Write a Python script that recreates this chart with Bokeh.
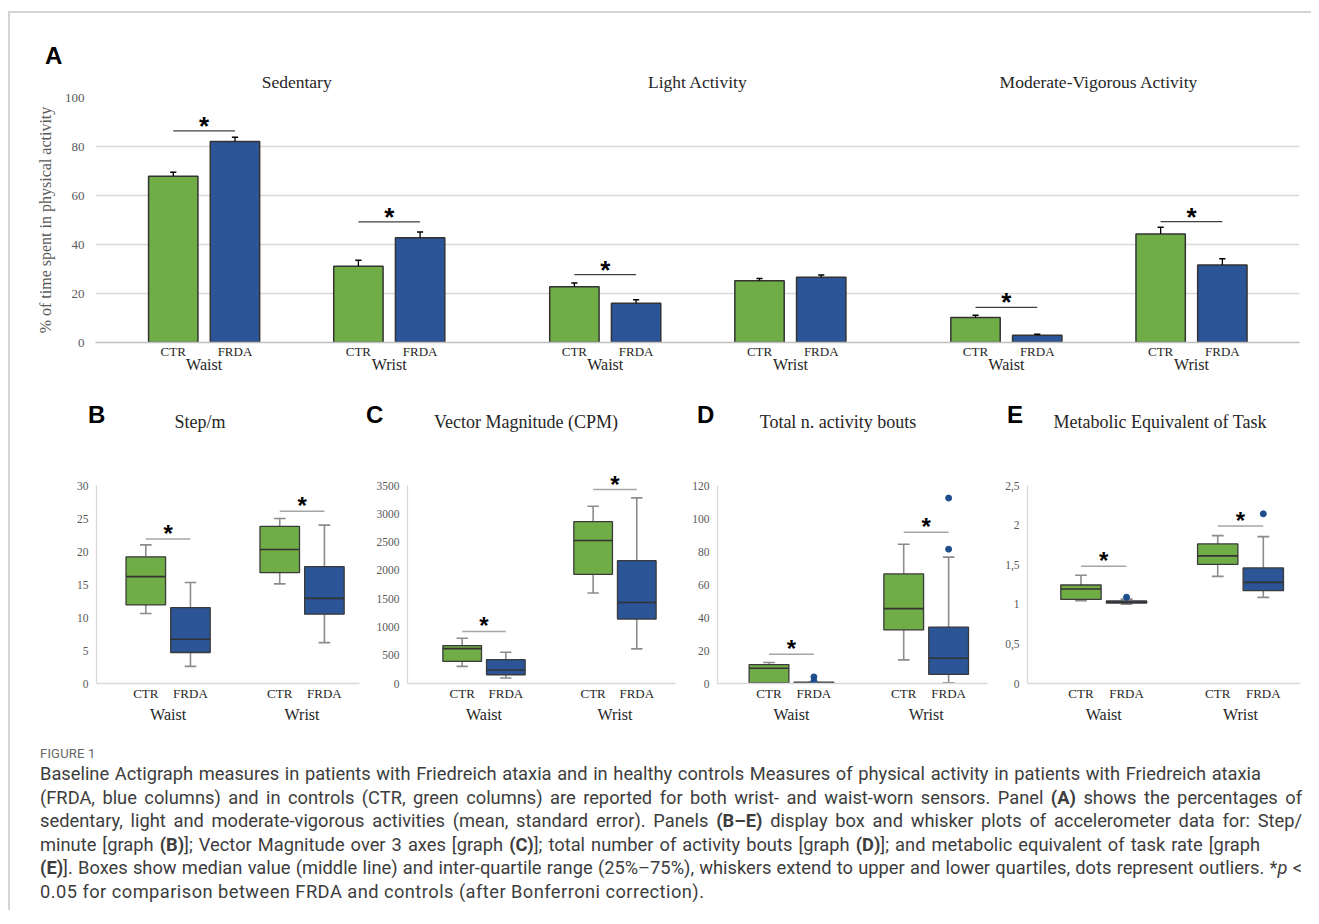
from bokeh.plotting import figure
from bokeh.models import Range1d, FixedTicker, LinearAxis, LabelSet, ColumnDataSource, Div
from bokeh.layouts import column, row
from bokeh.embed import file_html
from bokeh.resources import INLINE
from bokeh.core.properties import value

SERIF = "Liberation Serif"
SANS = "Liberation Sans"
GREEN = "#70AD47"
BLUE = "#2B5597"
OUTLINE = "#333333"
GRID = "#d9d9d9"
TICKC = "#595959"
TEXTC = "#262626"

# ---------------- Panel A data (mean % and standard error) ----------------
activities = ["Sedentary", "Light Activity", "Moderate-Vigorous Activity"]
sites = ["Waist", "Wrist"]
groups = ["CTR", "FRDA"]
# order: Sed-Waist, Sed-Wrist, Light-Waist, Light-Wrist, MV-Waist, MV-Wrist
ctr_mean = [67.9, 31.1, 22.8, 25.2, 10.2, 44.3]
frda_mean = [82.0, 42.8, 16.0, 26.6, 3.0, 31.6]
ctr_se = [1.6, 2.5, 1.5, 0.9, 0.9, 2.7]
frda_se = [1.8, 2.3, 1.5, 1.0, 0.4, 2.6]
sig_a = [86.4, 49.2, 27.7, None, 14.3, 49.3]

# ---------------- Panels B-E data: [low, q1, median, q3, high] for Waist, Wrist ----------------
b_ctr = [[10.6, 11.9, 16.2, 19.2, 21.0], [15.1, 16.8, 20.3, 23.8, 25.0]]
b_frda = [[2.6, 4.7, 6.7, 11.5, 15.3], [6.2, 10.5, 12.9, 17.7, 24.0]]
b_out = [[], []]
b_sig = [21.9, 26.1]

c_ctr = [[302, 391, 617, 671, 801], [1601, 1929, 2527, 2860, 3132]]
c_frda = [[96, 155, 238, 422, 552], [612, 1139, 1431, 2171, 3281]]
c_out = [[], []]
c_sig = [920, 3429]

d_ctr = [[0.0, 0.3, 9.2, 11.5, 12.7], [14.3, 32.5, 45.4, 66.4, 84.4]]
d_frda = [[0.0, 0.0, 0.3, 0.8, 0.8], [0.4, 5.5, 15.3, 34.2, 76.6]]
d_out = [[4.0, 1.5], [112.4, 81.4]]
d_sig = [17.8, 91.6]

e_ctr = [[1.045, 1.062, 1.193, 1.244, 1.366], [1.353, 1.504, 1.611, 1.762, 1.867]]
e_frda = [[1.0, 1.016, 1.025, 1.042, 1.065], [1.087, 1.172, 1.277, 1.459, 1.855]]
e_out = [[1.09], [2.142]]
e_sig = [1.479, 1.99]

panel_letters = ["B", "C", "D", "E"]
panel_titles = ["Step/m", "Vector Magnitude (CPM)", "Total n. activity bouts", "Metabolic Equivalent of Task"]


def style_fig(p):
    p.outline_line_color = None
    p.background_fill_color = "white"
    p.border_fill_color = "white"


def span(text, left, top, font, size, weight="normal", color="black", center=False):
    tr = "transform:translateX(-50%);" if center else ""
    return (f'<span style="position:absolute;left:{left}px;top:{top}px;{tr}font-family:\'{font}\';'
            f'font-size:{size}px;font-weight:{weight};color:{color};line-height:1;white-space:nowrap;">'
            f'{text}</span>')


# ======================= PANEL A =======================
headA = Div(text='<div style="position:relative;width:1301px;height:53px;">'
                 + span("A", 35, 31, SANS, 24, "bold") + '</div>',
            width=1301, height=53, margin=(0, 0, 0, 0))

pA = figure(width=1301, height=332, x_range=Range1d(-1.26, 18.25), y_range=Range1d(0, 100),
            output_backend="svg", toolbar_location=None, title=None,
            min_border_left=85, min_border_right=12, min_border_top=31, min_border_bottom=56)
style_fig(pA)
pA.xgrid.visible = False
pA.ygrid.grid_line_color = GRID
pA.ygrid.grid_line_width = 1.5

ctr_x, frda_x, site_x = [], [], []
for a in range(len(activities)):
    for s in range(len(sites)):
        base = 6.5 * a + 3 * s
        ctr_x.append(base)
        frda_x.append(base + 1)
        site_x.append(base + 0.5)
act_x = [6.5 * a + 2 for a in range(len(activities))]

yax = pA.yaxis[0]
yax.ticker = FixedTicker(ticks=[0, 20, 40, 60, 80, 100], minor_ticks=[])
yax.axis_line_color = None
yax.major_tick_line_color = None
yax.minor_tick_line_color = None
yax.major_tick_out = 0
yax.major_tick_in = 0
yax.major_label_standoff = 11
yax.major_label_text_font = SERIF
yax.major_label_text_font_size = "13px"
yax.major_label_text_color = TICKC
yax.axis_label = "% of time spent in physical activity"
yax.axis_label_text_font = SERIF
yax.axis_label_text_font_size = "16px"
yax.axis_label_text_font_style = "normal"
yax.axis_label_text_color = TICKC
yax.axis_label_standoff = 8

xax = pA.xaxis[0]
xax.ticker = FixedTicker(ticks=ctr_x + frda_x, minor_ticks=[])
xax.major_label_overrides = {**{x: groups[0] for x in ctr_x}, **{x: groups[1] for x in frda_x}}
xax.axis_line_color = "#bfbfbf"
xax.axis_line_width = 1.5
xax.major_tick_line_color = None
xax.minor_tick_line_color = None
xax.major_tick_out = 0
xax.major_tick_in = 0
xax.major_label_standoff = 1
xax.major_label_text_font = SERIF
xax.major_label_text_font_size = "13px"
xax.major_label_text_color = TEXTC

ax2 = LinearAxis(ticker=FixedTicker(ticks=site_x, minor_ticks=[]),
                 major_label_overrides={x: sites[i % 2] for i, x in enumerate(site_x)},
                 axis_line_color=None, major_tick_line_color=None, minor_tick_line_color=None,
                 major_tick_out=0, major_tick_in=0, major_label_standoff=-6,
                 major_label_text_font=SERIF, major_label_text_font_size="16px",
                 major_label_text_color=TEXTC)
pA.add_layout(ax2, "below")

axT = LinearAxis(ticker=FixedTicker(ticks=act_x, minor_ticks=[]),
                 major_label_overrides={x: activities[i] for i, x in enumerate(act_x)},
                 axis_line_color=None, major_tick_line_color=None, minor_tick_line_color=None,
                 major_tick_out=0, major_tick_in=0, major_label_standoff=6,
                 major_label_text_font=SERIF, major_label_text_font_size="17.5px",
                 major_label_text_color=TEXTC)
pA.add_layout(axT, "above")

srcC = ColumnDataSource(dict(x=ctr_x, top=ctr_mean, err=[m + e for m, e in zip(ctr_mean, ctr_se)],
                             xl=[x - 0.05 for x in ctr_x], xr=[x + 0.05 for x in ctr_x]))
srcF = ColumnDataSource(dict(x=frda_x, top=frda_mean, err=[m + e for m, e in zip(frda_mean, frda_se)],
                             xl=[x - 0.05 for x in frda_x], xr=[x + 0.05 for x in frda_x]))
for src, col in ((srcC, GREEN), (srcF, BLUE)):
    pA.vbar(x="x", top="top", width=0.8, source=src, fill_color=col, line_color=OUTLINE, line_width=1.5)
    pA.segment(x0="x", y0="top", x1="x", y1="err", source=src, line_color="black", line_width=1.3)
    pA.segment(x0="xl", y0="err", x1="xr", y1="err", source=src, line_color="black", line_width=1.5)

sx0, sx1, sy, smid = [], [], [], []
for k, yv in enumerate(sig_a):
    if yv is None:
        continue
    sx0.append(ctr_x[k]); sx1.append(frda_x[k]); sy.append(yv); smid.append((ctr_x[k] + frda_x[k]) / 2)
sigA = ColumnDataSource(dict(x0=sx0, x1=sx1, y=sy, xm=smid, t=["*"] * len(sy)))
pA.segment(x0="x0", y0="y", x1="x1", y1="y", source=sigA, line_color="#404040", line_width=1.2)
pA.add_layout(LabelSet(x="xm", y="y", text="t", source=sigA, text_align="center",
                       text_baseline="alphabetic", text_font=value(SANS), text_font_style="bold",
                       text_font_size="26px", text_color="black", y_offset=-4))


# ======================= PANELS B-E =======================
letter_px = [78, 356, 687, 997]
title_px = [190, 516, 828, 1150]
hdr = "".join(span(panel_letters[i], letter_px[i], 5, SANS, 24, "bold") +
              span(panel_titles[i], title_px[i], 15, SERIF, 18, "normal", TEXTC, center=True)
              for i in range(4))
headBE = Div(text=f'<div style="position:relative;width:1301px;height:42px;">{hdr}</div>',
             width=1301, height=42, margin=(0, 0, 0, 0))

FRAME_H = 208
AXIS_H = 198


def box_panel(ctr, frda, outl, sig, ytop, yticks, yover, xr, width, bl, br):
    p = figure(width=width, height=290, x_range=Range1d(*xr),
               y_range=Range1d(0, ytop * FRAME_H / AXIS_H),
               output_backend="svg", toolbar_location=None, title=None,
               min_border_left=bl, min_border_right=br, min_border_top=35, min_border_bottom=47)
    style_fig(p)
    p.xgrid.visible = False
    p.ygrid.visible = False
    bx_c = [3 * s for s in range(len(sites))]
    bx_f = [3 * s + 1 for s in range(len(sites))]
    bx_site = [3 * s + 0.5 for s in range(len(sites))]

    ya = p.yaxis[0]
    ya.ticker = FixedTicker(ticks=yticks, minor_ticks=[])
    ya.bounds = (0, ytop)
    if yover:
        ya.major_label_overrides = yover
    ya.axis_line_color = GRID
    ya.axis_line_width = 1.3
    ya.major_tick_line_color = None
    ya.minor_tick_line_color = None
    ya.major_tick_out = 0
    ya.major_tick_in = 0
    ya.major_label_standoff = 8
    ya.major_label_text_font = SERIF
    ya.major_label_text_font_size = "11.5px"
    ya.major_label_text_color = TICKC

    xa = p.xaxis[0]
    xa.ticker = FixedTicker(ticks=bx_c + bx_f, minor_ticks=[])
    xa.major_label_overrides = {**{x: groups[0] for x in bx_c}, **{x: groups[1] for x in bx_f}}
    xa.axis_line_color = GRID
    xa.axis_line_width = 1.3
    xa.major_tick_line_color = None
    xa.minor_tick_line_color = None
    xa.major_tick_out = 0
    xa.major_tick_in = 0
    xa.major_label_standoff = 2
    xa.major_label_text_font = SERIF
    xa.major_label_text_font_size = "13px"
    xa.major_label_text_color = TEXTC
    a2 = LinearAxis(ticker=FixedTicker(ticks=bx_site, minor_ticks=[]),
                    major_label_overrides={x: sites[i] for i, x in enumerate(bx_site)},
                    axis_line_color=None, major_tick_line_color=None, minor_tick_line_color=None,
                    major_tick_out=0, major_tick_in=0, major_label_standoff=2,
                    major_label_text_font=SERIF, major_label_text_font_size="16px",
                    major_label_text_color=TEXTC)
    p.add_layout(a2, "below")

    hw = 0.885 / 2
    cw = 0.13
    for xs, stats, col in ((bx_c, ctr, GREEN), (bx_f, frda, BLUE)):
        d = dict(x=xs, low=[s[0] for s in stats], q1=[s[1] for s in stats], med=[s[2] for s in stats],
                 q3=[s[3] for s in stats], high=[s[4] for s in stats],
                 xl=[x - hw for x in xs], xr=[x + hw for x in xs],
                 cl=[x - cw for x in xs], cr=[x + cw for x in xs])
        src = ColumnDataSource(d)
        p.segment(x0="x", y0="q3", x1="x", y1="high", source=src, line_color="#8c8c8c", line_width=1.6)
        p.segment(x0="x", y0="q1", x1="x", y1="low", source=src, line_color="#8c8c8c", line_width=1.6)
        p.segment(x0="cl", y0="high", x1="cr", y1="high", source=src, line_color="#8c8c8c", line_width=1.6)
        p.segment(x0="cl", y0="low", x1="cr", y1="low", source=src, line_color="#8c8c8c", line_width=1.6)
        p.vbar(x="x", bottom="q1", top="q3", width=2 * hw, source=src, fill_color=col,
               line_color="#3a3a3a", line_width=1.3)
        p.segment(x0="xl", y0="med", x1="xr", y1="med", source=src, line_color="#333333", line_width=1.6)

    ox, oy = [], []
    for s, vals in enumerate(outl):
        for v in vals:
            ox.append(bx_f[s]); oy.append(v)
    if ox:
        p.scatter(x=ox, y=oy, size=6, fill_color="#1F4E8C", line_color="#1F4E8C")

    sig_src = ColumnDataSource(dict(x0=bx_c, x1=bx_f, y=sig, xm=bx_site, t=["*"] * len(sig)))
    p.segment(x0="x0", y0="y", x1="x1", y1="y", source=sig_src, line_color="#a6a6a6", line_width=1.5)
    p.add_layout(LabelSet(x="xm", y="y", text="t", source=sig_src, text_align="center",
                          text_baseline="alphabetic", text_font=value(SANS), text_font_style="bold",
                          text_font_size="24px", text_color="black", y_offset=-3))
    return p


pB = box_panel(b_ctr, b_frda, b_out, b_sig, 30, [0, 5, 10, 15, 20, 25, 30], None,
               (-1.104, 4.786), 358, 86, 9)
pC = box_panel(c_ctr, c_frda, c_out, c_sig, 3500, list(range(0, 3501, 500)), None,
               (-1.253, 4.887), 320, 39, 13)
pD = box_panel(d_ctr, d_frda, d_out, d_sig, 120, list(range(0, 121, 20)), None,
               (-1.147, 4.866), 312, 29, 13)
pE = box_panel(e_ctr, e_frda, e_out, e_sig, 2.5, [0, 0.5, 1, 1.5, 2, 2.5],
               {0: "0", 0.5: "0,5", 1: "1", 1.5: "1,5", 2: "2", 2.5: "2,5"},
               (-1.173, 4.816), 311, 27, 11)

caption_lines = [
    "Baseline Actigraph measures in patients with Friedreich ataxia and in healthy controls Measures of physical activity in patients with Friedreich ataxia",
    "(FRDA, blue columns) and in controls (CTR, green columns) are reported for both wrist- and waist-worn sensors. Panel <b>(A)</b> shows the percentages of",
    "sedentary, light and moderate-vigorous activities (mean, standard error). Panels <b>(B&#8211;E)</b> display box and whisker plots of accelerometer data for: Step/",
    "minute [graph <b>(B)</b>]; Vector Magnitude over 3 axes [graph <b>(C)</b>]; total number of activity bouts [graph <b>(D)</b>]; and metabolic equivalent of task rate [graph",
    "<b>(E)</b>]. Boxes show median value (middle line) and inter-quartile range (25%&#8211;75%), whiskers extend to upper and lower quartiles, dots represent outliers. *<i>p</i> &lt;",
    "0.05 for comparison between FRDA and controls (after Bonferroni correction).",
]
line_w = [1221, 1262, 1262, 1220, 1262, None]
parts = []
for ln, w in zip(caption_lines, line_w):
    if w:
        parts.append(f'<div style="width:{w}px;text-align:justify;text-align-last:justify;'
                     f'height:23.6px;line-height:23.6px;">{ln}</div>')
    else:
        parts.append('<div style="white-space:nowrap;height:23.6px;line-height:23.6px;'
                     f'letter-spacing:0.45px;">{ln}</div>')
caption_html = (
    '<div style="font-family:Roboto, sans-serif;color:#3d3d3d;padding-left:30px;padding-top:15px;">'
    '<div style="font-size:13px;color:#666666;height:17px;line-height:17px;letter-spacing:0.2px;">FIGURE 1</div>'
    f'<div style="font-size:18.3px;">{"".join(parts)}</div>'
    '</div>'
)
cap = Div(text=caption_html, width=1301, height=180, margin=(0, 0, 0, 0))

layout = column(headA, pA, headBE, row(pB, pC, pD, pE), cap,
                styles={"border-top": "2px solid #d4d4d4", "border-left": "2px solid #d4d4d4",
                        "margin-top": "11px", "margin-left": "8px", "background-color": "white"})

open("out.html", "w").write(file_html(layout, INLINE))
